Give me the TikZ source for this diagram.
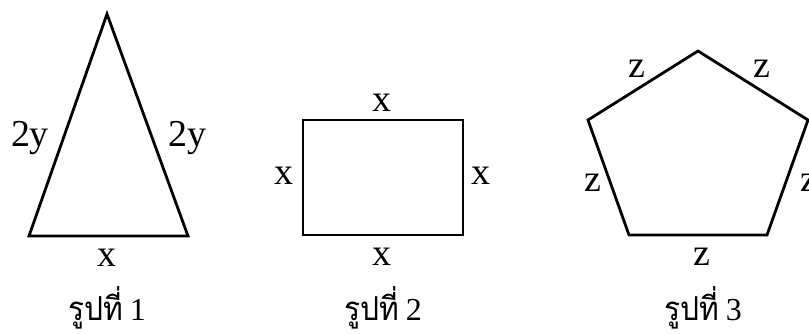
\documentclass[tikz,border=0pt]{standalone}
\usepackage{fontspec}
\setmainfont{Liberation Serif}
\newfontfamily\thaifont[Script=Thai]{Loma}
\newcommand{\thcap}[1]{\scalebox{1}[1.1]{\thaifont\fontsize{30}{32}\selectfont รูปที่}\hspace{7pt}{\fontsize{32}{34}\selectfont #1}}
\tikzset{
  outl/.style={draw=black, line width=2.8pt, line join=miter},
  lbl/.style={font=\fontsize{38}{40}\selectfont, anchor=base, inner sep=0pt},
  captxt/.style={anchor=base, inner sep=0pt}
}
\begin{document}
\begin{tikzpicture}[x=1pt,y=-1pt]
\clip (0,0) rectangle (809,334);
\fill[white] (0,0) rectangle (809,334);
% triangle
\coordinate (t1) at (107,14);
\coordinate (t2) at (29,236);
\coordinate (t3) at (188,236);
\draw[outl] (t1) -- (t2) -- (t3) -- cycle;
\node[lbl] (tl) at (30,147) {2y};
\node[lbl] (tr) at (187,147) {2y};
\node[lbl] (tb) at (107,266) {x};
\node[captxt] (c1) at (107,320) {\thcap{1}};
% rectangle
\coordinate (r1) at (303,120);
\coordinate (r2) at (463,235);
\draw[outl] (r1) rectangle (r2);
\node[lbl] (rt) at (382,112) {x};
\node[lbl] (rl) at (284,185) {x};
\node[lbl] (rr) at (481,185) {x};
\node[lbl] (rb) at (382,265) {x};
\node[captxt] (c2) at (383,320) {\thcap{2}};
% pentagon
\coordinate (p1) at (698,51);
\coordinate (p2) at (808,120);
\coordinate (p3) at (767,235);
\coordinate (p4) at (629,235);
\coordinate (p5) at (588,120);
\draw[outl] (p1) -- (p2) -- (p3) -- (p4) -- (p5) -- cycle;
\node[lbl] (pz1) at (637,78) {z};
\node[lbl] (pz2) at (762,78) {z};
\node[lbl] (pz3) at (593,192) {z};
\node[lbl] (pz4) at (809,192) {z};
\node[lbl] (pz5) at (702,265) {z};
\node[captxt] (c3) at (703,320) {\thcap{3}};
\end{tikzpicture}
\end{document}
